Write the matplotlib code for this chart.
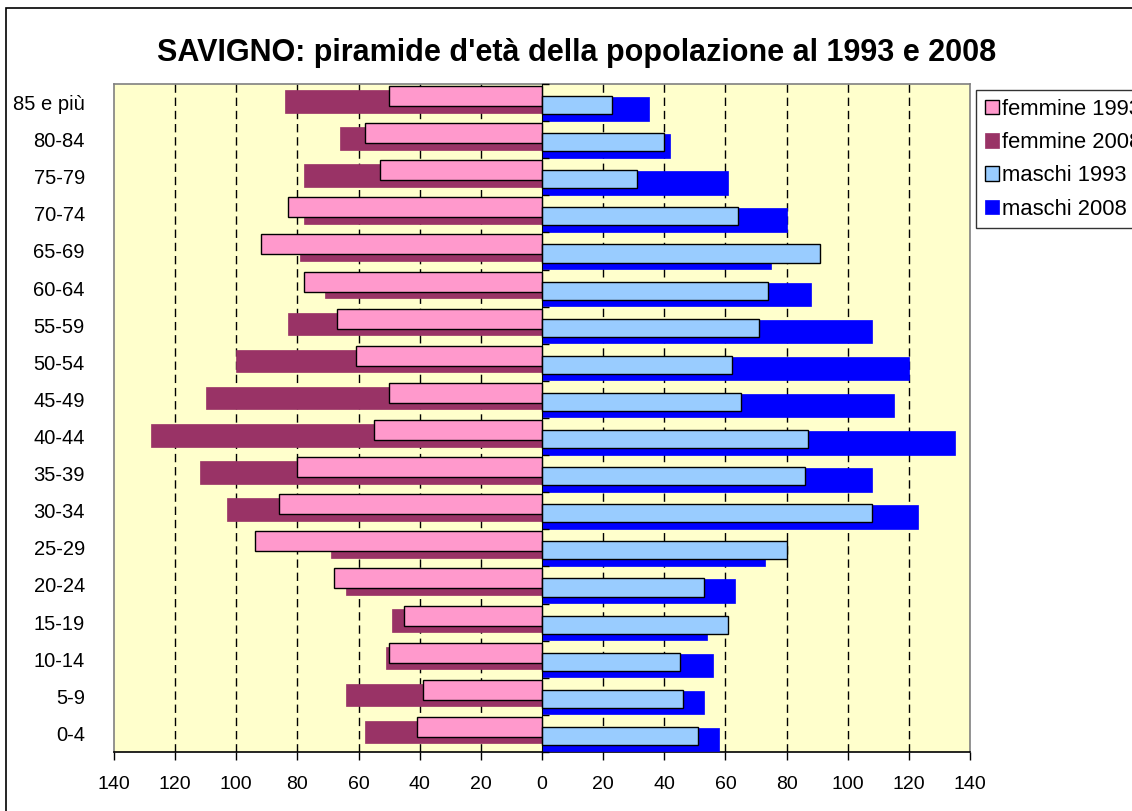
import matplotlib
matplotlib.use('Agg')
import matplotlib.pyplot as plt
import numpy as np
from matplotlib.patches import Rectangle

categories = ['0-4', '5-9', '10-14', '15-19', '20-24', '25-29', '30-34', '35-39',
              '40-44', '45-49', '50-54', '55-59', '60-64', '65-69', '70-74',
              '75-79', '80-84', '85 e più']
femmine_1993 = [41, 39, 50, 45, 68, 94, 86, 80, 55, 50, 61, 67, 78, 92, 83, 53, 58, 50]
femmine_2008 = [58, 64, 51, 49, 64, 69, 103, 112, 128, 110, 100, 83, 71, 79, 78, 78, 66, 84]
maschi_1993 = [51, 46, 45, 61, 53, 80, 108, 86, 87, 65, 62, 71, 74, 91, 64, 31, 40, 23]
maschi_2008 = [58, 53, 56, 54, 63, 73, 123, 108, 135, 115, 120, 108, 88, 75, 80, 61, 42, 35]
xticks = list(range(-140, 141, 20))
title = "SAVIGNO: piramide d'età della popolazione al 1993 e 2008"

plt.rcParams['font.family'] = ['Liberation Sans', 'DejaVu Sans']
plt.rcParams['lines.scale_dashes'] = False

W, H = 1132, 811
fig = plt.figure(figsize=(W / 100, H / 100), dpi=100)
fig.patch.set_facecolor('white')

# chart area border
fig.patches.append(Rectangle((6 / W, -0.1), 1.2, 1 - 8 / H + 0.1, transform=fig.transFigure,
                             fill=False, edgecolor='black', linewidth=1.2, zorder=0))

ax = fig.add_axes([114 / W, (H - 752) / H, (970 - 114) / W, (752 - 84) / H])
ax.set_facecolor('#FFFFCC')

y = np.arange(len(categories))
f93 = -np.array(femmine_1993)
f08 = -np.array(femmine_2008)
m93 = np.array(maschi_1993)
m08 = np.array(maschi_2008)

b_f08 = ax.barh(y - 0.27, f08, height=0.61, align='edge', color='#993366',
                edgecolor='#993366', linewidth=0.5, zorder=3)
b_f93 = ax.barh(y - 0.094, f93, height=0.54, align='edge', color='#FF99CC',
                edgecolor='black', linewidth=1.0, zorder=4)
b_m08 = ax.barh(y - 0.485, m08, height=0.635, align='edge', color='#0000FF',
                edgecolor='#0000FF', linewidth=0.5, zorder=3)
b_m93 = ax.barh(y - 0.31, m93, height=0.486, align='edge', color='#99CCFF',
                edgecolor='black', linewidth=1.0, zorder=4)

ax.set_xlim(-140, 140)
ax.set_ylim(-0.5, len(categories) - 0.5)

# gridlines
for t in xticks:
    if t in (-140, 0, 140):
        continue
    ax.axvline(t, color='black', linewidth=1.0, linestyle=(0, (6, 3.5)), zorder=1)

ax.set_xticks(xticks)
ax.set_xticklabels([str(abs(t)) for t in xticks], fontsize=14)
ax.tick_params(axis='x', direction='out', length=6, width=1, pad=11, colors='black')

ax.set_yticks(y)
ax.set_yticklabels(categories, fontsize=14.5)
ax.tick_params(axis='y', length=0, pad=21)

for s in ('top', 'left', 'right'):
    ax.spines[s].set_color('#808080')
    ax.spines[s].set_linewidth(1.2)
ax.spines['bottom'].set_color('black')
ax.spines['bottom'].set_linewidth(1.2)

# category axis at zero
sec = ax.secondary_yaxis(0.5)
sec.set_yticks(np.arange(len(categories) + 1) - 0.5)
sec.set_yticklabels([])
sec.tick_params(axis='y', direction='out', length=5, width=1, colors='black')
sec.spines['left'].set_color('black')
sec.spines['left'].set_linewidth(1.2)
sec.set_zorder(6)

fig.text(577 / W, 1 - 53 / H, title, ha='center', va='center', fontsize=22,
         fontweight='bold')

leg = fig.legend([b_f93, b_f08, b_m93, b_m08],
                 ['femmine 1993', 'femmine 2008', 'maschi 1993', 'maschi 2008'],
                 loc='upper left', bbox_to_anchor=(976 / W, 1 - 90 / H),
                 fontsize=15.8, frameon=True, fancybox=False, shadow=False,
                 handlelength=0.65, handleheight=0.65, handletextpad=0.15,
                 labelspacing=0.56, borderpad=0.4, borderaxespad=0)
leg.get_frame().set_edgecolor('black')
leg.get_frame().set_linewidth(1.0)

fig.savefig('out.png', dpi=100)
